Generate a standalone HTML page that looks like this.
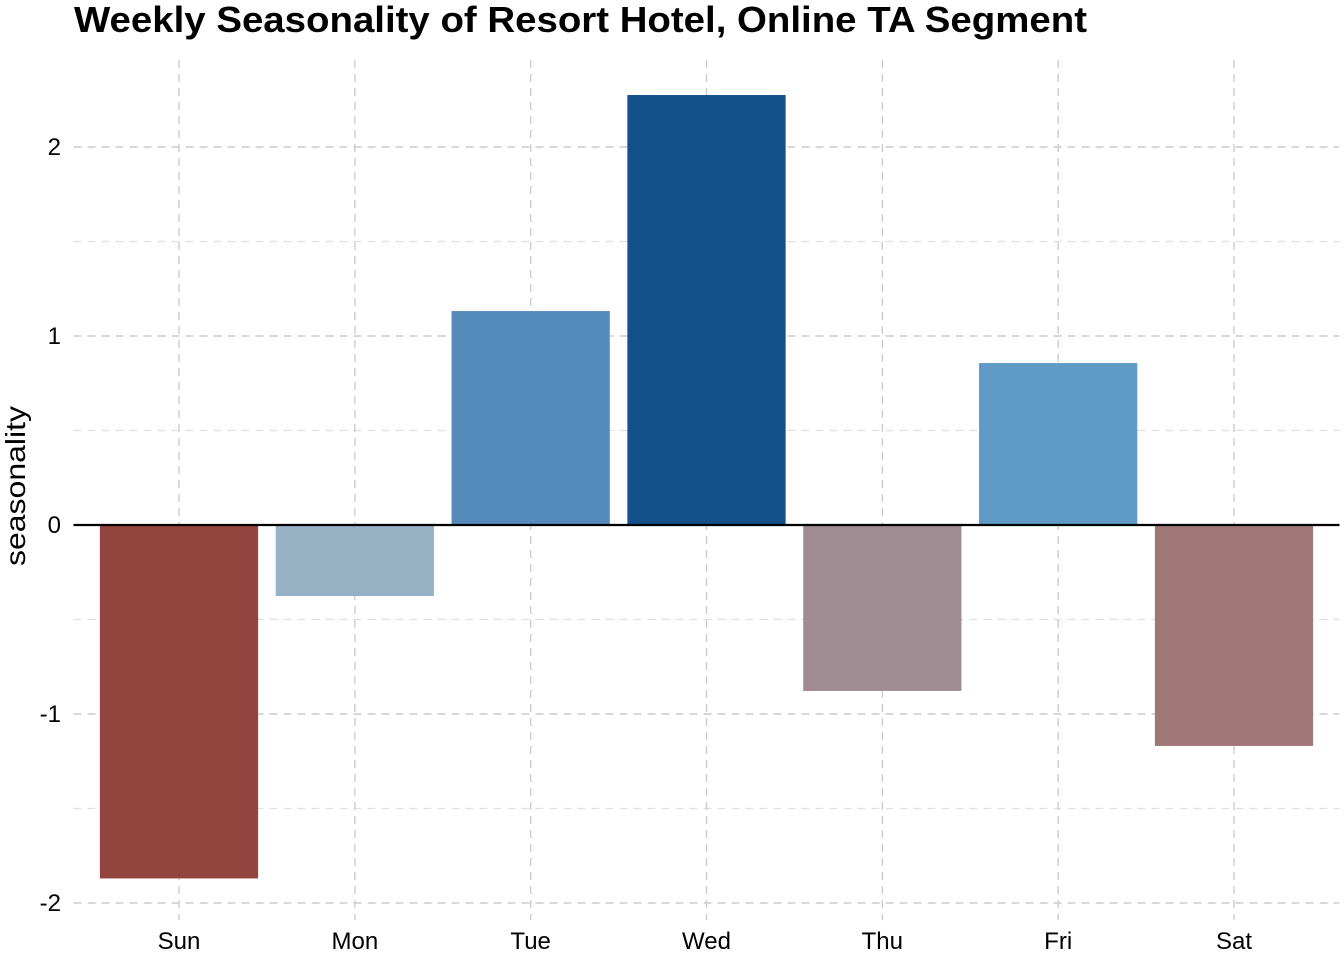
<!DOCTYPE html>
<html><head><meta charset="utf-8"><style>
body{margin:0;background:#fff;}
svg{display:block;font-family:"Liberation Sans",Arial,sans-serif;}
</style></head><body>
<svg id="chart" width="1344" height="960" xmlns="http://www.w3.org/2000/svg">
<text x="74" y="32" font-size="36" font-weight="bold" fill="#000" textLength="1013" lengthAdjust="spacingAndGlyphs">Weekly Seasonality of Resort Hotel, Online TA Segment</text>
<text transform="translate(25,486) rotate(-90)" text-anchor="middle" font-size="28" fill="#000" textLength="160" lengthAdjust="spacingAndGlyphs">seasonality</text>
<g id="grid"></g><g id="bars"></g><g id="axes"></g>
</svg>
<script>
const categories=["Sun","Mon","Tue","Wed","Thu","Fri","Sat"];
const values=[-1.87,-0.376,1.132,2.275,-0.878,0.857,-1.169];
const colors=["#94443e","#98b2c5","#558bba","#124f8b","#a08c93","#5f9bc6","#9f7775"];
const yTicks=[-2,-1,0,1,2];
const yMinor=[-1.5,-0.5,0.5,1.5];
const NS="http://www.w3.org/2000/svg";
const left=73.5,right=1339.5,band=(right-left)/(categories.length+0.2);
const x=i=>left+band*(0.6+i);
const y=v=>525-189*v;
const bw=band*0.9;
function mk(tag,attrs,parent){const e=document.createElementNS(NS,tag);for(const k in attrs)e.setAttribute(k,attrs[k]);parent.appendChild(e);return e;}
const grid=document.getElementById('grid'),bars=document.getElementById('bars'),axes=document.getElementById('axes');
yMinor.forEach(v=>{const l=mk('line',{x1:left,x2:right,y1:y(v),y2:y(v),stroke:'#e0e0e0','stroke-width':1.2,'stroke-dasharray':'8,6'},grid);

});
yTicks.forEach(v=>{const l=mk('line',{x1:left,x2:right,y1:y(v),y2:y(v),stroke:'#cccccc','stroke-width':1.4,'stroke-dasharray':'8,6'},grid);


const t=mk('text',{x:61,y:y(v)+8,'text-anchor':'end','font-size':24,fill:'#000'},axes);t.textContent=String(v);

});
categories.forEach((c,i)=>{const l=mk('line',{x1:x(i),x2:x(i),y1:60,y2:920,stroke:'#cccccc','stroke-width':1.4,'stroke-dasharray':'8,6'},grid);


const v=values[i];const r=mk('rect',{x:x(i)-bw/2,y:Math.min(y(v),y(0)),width:bw,height:Math.abs(y(v)-y(0)),fill:colors[i]},bars);


const t=mk('text',{x:x(i),y:949,'text-anchor':'middle','font-size':24,fill:'#000'},axes);t.textContent=c;

});
const z=mk('line',{x1:left,x2:right,y1:y(0),y2:y(0),stroke:'#000','stroke-width':2.2},axes);


</script>
</body></html>
